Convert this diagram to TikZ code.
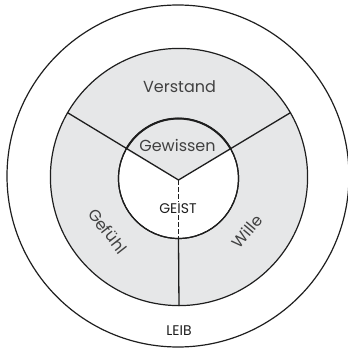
\documentclass[tikz,border=0pt]{standalone}
\usepackage{fontspec}
\setmainfont{Poppins}
\usetikzlibrary{calc}
\definecolor{soul}{RGB}{230,231,232}
\definecolor{ink}{RGB}{30,30,30}
\definecolor{word}{RGB}{65,65,65}
\tikzset{
  ring/.style={draw=ink, line width=1.2pt, circle, inner sep=0pt},
  spoke/.style={draw=ink, line width=1.3pt},
  facet/.style={text=word, font=\fontsize{16}{19}\selectfont, inner sep=1pt},
  core/.style={text=ink, font=\fontsize{14}{17}\selectfont, inner sep=1pt}
}

\begin{document}
\begin{tikzpicture}[x=1pt,y=1pt]
  \useasboundingbox (-179,-172) rectangle (169,177);
  \coordinate (O) at (0,0);
  \coordinate (S) at (-0.5,-3);
  \coordinate (I) at (-0.5,-1.5);
  \node[ring, minimum size=342pt] (leib) at (-1,1) {};
  \node[ring, fill=soul, minimum size=257.2pt] (seele) at (O) {};
  \node[ring, fill=white, minimum size=120pt] (geist) at (I) {};
  \begin{scope}
    \clip (I) circle (60);
    \fill[soul] (S) -- ++(150:100) -- ++(0,80) -| ($(S)+(30:100)$) -- cycle;
  \end{scope}
  \draw[ink, line width=1.2pt] (I) circle (60);
  \draw[ink, line width=2pt] (I) ++(29:60) arc (29:151:60);
  \draw[spoke] (S) -- (seele.150);
  \draw[spoke] (S) -- (seele.30);
  \draw[spoke, dash pattern=on 5pt off 2pt] (S) -- (geist.south);
  \draw[spoke] (geist.south) -- (seele.south);
  \node[facet, anchor=base] (verstand) at (0.5,85) {Verstand};
  \node[facet, anchor=base] (gewissen) at (-1.5,25.3) {Gewissen};
  \node[facet, rotate=-52] (gefuehl) at (-71,-54) {Gefühl};
  \node[facet, rotate=50] (wille) at (68,-54) {Wille};
  \node[core, anchor=base, fill=white] (tgeist) at (-1,-36.3) {GEIST};
  \node[core, anchor=base] (tleib) at (0,-158) {LEIB};
\end{tikzpicture}
\end{document}
